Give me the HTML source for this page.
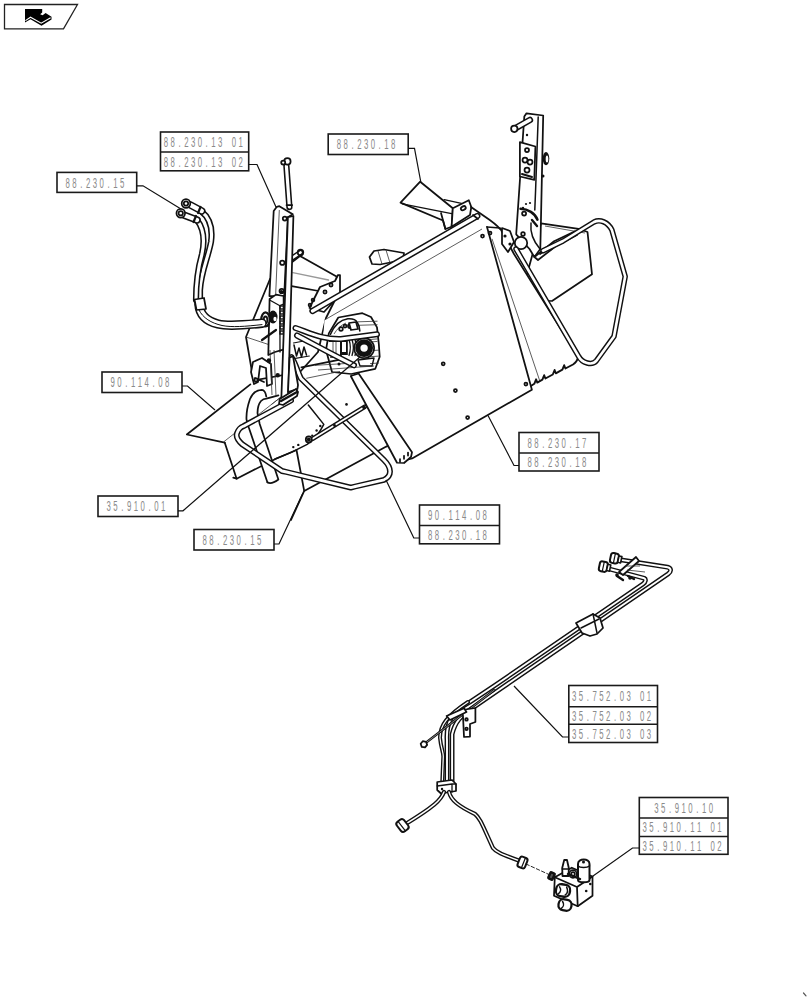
<!DOCTYPE html>
<html><head><meta charset="utf-8"><style>
html,body{margin:0;padding:0;background:#fff;width:812px;height:1000px;overflow:hidden}
svg{display:block}
.bx{fill:none;stroke:#1a1a1a;stroke-width:1.6}
.tx{font-family:"Liberation Sans",sans-serif;font-size:15px;fill:#8a8a8a}
.ld{fill:none;stroke:#111;stroke-width:1.2}
.k{fill:none;stroke:#111;stroke-width:1.75;stroke-linejoin:round;stroke-linecap:round}
.kw{fill:#fff;stroke:#111;stroke-width:1.75;stroke-linejoin:round;stroke-linecap:round}
.t{fill:none;stroke:#333;stroke-width:0.8}
</style></head><body>
<svg width="812" height="1000" viewBox="0 0 812 1000">
<path d="M541,223.3 L578.6,228.8 L587.5,232 L592,274.3 L552,301 L520,300 Z" class="kw" />
<path d="M545,226 L585,233" class="t" />
<path d="M420.2,181.7 L452.8,208.2 L451.6,226.7 L445.4,229 L443,220.5 L400.5,202.6 Z" class="kw" />
<path d="M402.3,203.9 L451.6,213.7" style="stroke-width:1.3" class="k"/>
<path d="M441,213 L445.4,229" class="k" />
<path d="M444.2,199.6 L461.4,203.3" style="stroke-width:1.3" class="k"/>
<path d="M369.5,257 L374,251 L384,249.5 L404,253 L403,260 L380,264.5 L372,264 Z" class="kw" />
<path d="M378,251 L382,264 M386,250 L390,263" class="t" />
<path d="M270,279 L300,256 L336.5,276.5 L339,292 L326,318 L318,352 L300,372 L253.5,380.5 L246,337 Z" class="kw" />
<path d="M292.8,272.7 L328.5,280" style="stroke:#999;stroke-width:1.3" class="k"/>
<path d="M291.6,286.2 L318.7,291" class="k" />
<path d="M246,337 L270,345" class="t" />
<path d="M224.7,442.6 L356,376 L400,440 L386.3,446.6 L304.2,490.9 L296.5,450 L275.4,459 L236.6,478.7 L233.3,477.6 Z" style="stroke:none" class="kw"/>
<path d="M400,440 L386.3,446.6 L304.2,490.9 L296.5,450 L275.4,459 L236.6,478.7 L233.3,477.6" class="k" />
<path d="M223.5,442 L281,397" class="t" />
<path d="M275,459 C285,455.4 295,451 307.2,444.3 C314,440 320,432 323.8,424.4 L308.3,405" style="stroke-width:1.5" class="k"/>
<path d="M304.2,490.9 L291,520" class="k" />
<circle cx="293.3" cy="447.1" r="1.2" fill="#111"/>
<circle cx="298.3" cy="444.9" r="1.2" fill="#111"/>
<circle cx="312.2" cy="435.5" r="1.1" fill="#111"/>
<circle cx="316.6" cy="430.5" r="1.2" fill="#111"/>
<circle cx="320.3" cy="426" r="1.2" fill="#111"/>
<circle cx="346.5" cy="404.4" r="1.3" fill="#111"/>
<path d="M186.8,434.5 L250.4,384.4 L272,405 L262,420 L224.7,442.6 Z" style="stroke:none" class="kw"/>
<path d="M224.7,442.6 L186.8,434.5 L250.4,384.4" class="k" />
<path d="M224.7,442.6 L236.6,478.7" class="k" />
<path d="M267.4,482.3 L248.7,427.3 L246.5,419.6 C246,410 248.2,404.2 250,399 C252,394 256,390 261.9,389.9 C264,390 265.5,392 266.3,396.5 L278.4,395.4 L266.3,398.7 C265,398.7 263,399 261,401 C258.5,404 257.5,408 257.5,413 L259.7,424 L278.4,479.5 Z" style="stroke:none" class="kw"/>
<path d="M267.4,482.3 L248.7,427.3 L246.5,419.6 C246,410 248.2,404.2 250,399 C252,394 256,390 261.9,389.9 C264,390 265.5,392 266.3,396.5" class="k" />
<path d="M278.4,395.4 L266.3,398.7 C265,398.7 263,399 261,401 C258.5,404 257.5,408 257.5,413 L259.7,424 L278.4,479.5 C275,482 270,484 267.4,482.3" class="k" />
<path d="M223.5,442 L281,397" class="t" />
<path d="M487,227 L500,228 L514,254 L578.2,356.7 L573,364.5 L531.9,388.8 L521.9,360 Z" style="stroke:none" class="kw"/>
<path d="M487,227 L500,228 L514,254 L578.2,356.7" class="k" />
<path d="M492,238.8 L539.8,381" class="t" />
<path d="M530.9,386 L534.3,383.8 L536.1,379.3 L537.3,382.6 L542.4,379.7 L544.2,375.2 L545.4,378.5 L552.8,374.5 L554.6,370.0 L555.8,373.3 L562.4,369.7 L564.2,365.2 L565.4,368.5 L573,364.5 C576,362.5 577.5,360 578.2,356.7" style="stroke-width:1.9" class="k"/>
<path d="M324.5,320 L487,227 L531.9,389.8 L412.1,458.5 L402,461 L350.75,376 L322,352 Z" style="stroke:none" class="kw"/>
<path d="M487,227 L531.9,389.8 L412.1,458.5 L402,461" class="k" />
<circle cx="443.2" cy="363.8" r="1.5" class="k"/>
<circle cx="455.4" cy="390.6" r="1.5" class="k"/>
<circle cx="467.6" cy="417.6" r="1.5" class="k"/>
<circle cx="525.9" cy="384" r="1.5" class="k"/>
<circle cx="482.5" cy="236" r="1.5" class="k"/>
<circle cx="490" cy="233" r="1.5" class="k"/>
<path d="M350.75,376 L358.6,373.5 L412,452.25 L411,457 L404,463 L397,462.75 Z" class="kw" />
<path d="M400,462.0 l0,-3" class="k" />
<path d="M404,458.8 l0,-3" class="k" />
<path d="M408,455.6 l0,-3" class="k" />
<path d="M338.3,317.5 L362.4,313.2 L371,317 L377,327.4 L378.8,343.8 L379.7,356.7 L375.3,368.8 L351.2,374 L332,372 L326,350 L328.8,333.4 Z" class="kw" />
<path d="M358,321.8 L377.5,321.2" class="t" />
<path d="M358,325.3 L377.5,324.7" class="t" />
<path d="M370,339.5 L377.5,338.9" class="t" />
<path d="M370,342 L377.5,341.4" class="t" />
<path d="M370,350.7 L379,350.09999999999997" class="t" />
<path d="M370,356.7 L379,356.09999999999997" class="t" />
<path d="M370,363.6 L379,363.0" class="t" />
<path d="M330.5,334.3 C334,326 340,320 347.8,318.8 C352,318.5 356,320 357.2,322.2 C359,325 359.8,328 359.8,330.9" style="stroke-width:1.6" class="k"/>
<path d="M334,334 C337,329 341,325 346,323" class="t" />
<circle cx="341" cy="329" r="1.8" class="k"/>
<circle cx="345" cy="326" r="1.5" class="k"/>
<circle cx="350" cy="326" r="2" class="k"/>
<path d="M349,323 L356,322 L358,329 L351,330 Z" class="kw" />
<path d="M329.7,341.2 L340.9,341 L340.9,356.7 L331,357" class="k" />
<path d="M333,342 L333,357 M336,342 L336,357" class="t" />
<rect x="340" y="339.5" width="7.8" height="15.5" fill="#111"/>
<rect x="342" y="342" width="4" height="10" fill="#fff"/>
<path d="M349,339.5 C350.5,344 350.5,351 349,355.5" style="stroke-width:1.3" class="k"/>
<path d="M352,339.5 C353.5,344 353.5,351 352,355.5" style="stroke-width:1.3" class="k"/>
<path d="M355,339.5 C356.5,344 356.5,351 355,355.5" style="stroke-width:1.3" class="k"/>
<circle cx="364.1" cy="348.1" r="10" class="kw"/>
<circle cx="364.1" cy="348.1" r="6.3" fill="none" stroke="#111" stroke-width="5.2"/>
<circle cx="364.1" cy="348.1" r="2.7" fill="#fff"/>
<path d="M358,360 L374,358 L372,366 L360,366 Z" style="stroke-width:1.4" class="k"/>
<path d="M315,365.3 L355,363 M318,370 L374,366" class="t" />
<circle cx="339" cy="364" r="1.5" fill="#111"/>
<path d="M309.5,308 L320,287 L335,281 L338,275 L340,275 L340,294.5 L324,312 Z" class="kw" />
<circle cx="325" cy="292" r="1.6" class="k"/>
<circle cx="331" cy="285" r="1.6" class="k"/>
<circle cx="313" cy="300" r="1.4" class="k"/>
<circle cx="310" cy="305" r="1.4" class="k"/>
<path d="M312.5,311 L477.3,216" fill="none" stroke="#111" stroke-width="6.3" stroke-linecap="round" stroke-linejoin="round"/>
<path d="M312.5,311 L477.3,216" fill="none" stroke="#fff" stroke-width="3.18" stroke-linecap="round" stroke-linejoin="round"/>
<path d="M324.5,320 L482,229" class="t" />
<path d="M452.8,208.2 L468.8,200.2 L471.3,207 L470,215 L451.6,226.7 Z" class="kw" />
<ellipse cx="463.3" cy="208.2" rx="2.6" ry="1.8" transform="rotate(-30 463.3 208.2)" fill="none" stroke="#111" stroke-width="1.8"/>
<path d="M471,207 L484,216 C490,220 496,224 500,229" class="k" />
<path d="M473,215 L478,219" class="k" />
<path d="M291.5,357 C296,364 298,373 301,378.5 L384,460 C392,468 392,476 384,479.8 L355.2,486.5 L350.8,487.6 L286.5,472 L282,471 L242.2,444.3 C237.5,440 236,436 237,433.3 C238.5,429 241,427 243.5,426.2 L291,400.5" fill="none" stroke="#111" stroke-width="5.9" stroke-linecap="round" stroke-linejoin="round"/>
<path d="M291.5,357 C296,364 298,373 301,378.5 L384,460 C392,468 392,476 384,479.8 L355.2,486.5 L350.8,487.6 L286.5,472 L282,471 L242.2,444.3 C237.5,440 236,436 237,433.3 C238.5,429 241,427 243.5,426.2 L291,400.5" fill="none" stroke="#fff" stroke-width="2.90" stroke-linecap="round" stroke-linejoin="round"/>
<path d="M312.7,438.8 L364.8,406.7" fill="none" stroke="#111" stroke-width="4.6" stroke-linecap="round" stroke-linejoin="round"/>
<path d="M312.7,438.8 L364.8,406.7" fill="none" stroke="#fff" stroke-width="1.72" stroke-linecap="round" stroke-linejoin="round"/>
<circle cx="334.5" cy="425.5" r="1.4" fill="#111"/>
<circle cx="364" cy="407.5" r="1.8" fill="#111"/>
<circle cx="308.8" cy="439.4" r="3" class="kw"/>
<circle cx="308.8" cy="439.4" r="2" fill="#111"/>
<path d="M286.4,166 L289.4,207" fill="none" stroke="#111" stroke-width="6.3" stroke-linecap="round" stroke-linejoin="round"/>
<path d="M286.4,166 L289.4,207" fill="none" stroke="#fff" stroke-width="3.18" stroke-linecap="round" stroke-linejoin="round"/>
<path d="M286.5,205 L292.2,205" class="k" />
<circle cx="287.4" cy="161.4" r="3.2" class="kw"/>
<circle cx="283.2" cy="162.6" r="2" class="kw"/>
<path d="M273.7,211 L276.8,206.8 L279.3,206.2 L292.8,214.2 L287.9,217.2 L284.2,296 L269.4,296 Z" class="kw" />
<path d="M279.3,210 L275.6,296" class="t" />
<circle cx="284.8" cy="218.5" r="2" class="kw"/>
<circle cx="282.3" cy="262.8" r="2.2" class="kw"/>
<circle cx="281.7" cy="291" r="2.2" class="kw"/>
<path d="M292.2,258 L300.5,252.5" fill="none" stroke="#111" stroke-width="5.5" stroke-linecap="round" stroke-linejoin="round"/>
<path d="M292.2,258 L300.5,252.5" fill="none" stroke="#fff" stroke-width="2.62" stroke-linecap="round" stroke-linejoin="round"/>
<circle cx="300.5" cy="252.5" r="2.8" class="k"/>
<path d="M269.6,299 L276,294.6 L283.6,296 L284,349.3 L275,352 L268.3,355 Z" class="kw" />
<path d="M269.6,300 L279.9,305.7 L283.6,304" style="stroke-width:1.3" class="k"/>
<rect x="280" y="306" width="3.4" height="3" fill="#fff" stroke="#111" stroke-width="1.4"/>
<rect x="280" y="311" width="3.4" height="3" fill="#fff" stroke="#111" stroke-width="1.4"/>
<rect x="280" y="316" width="3.4" height="3" fill="#fff" stroke="#111" stroke-width="1.4"/>
<rect x="280" y="321" width="3.4" height="3" fill="#fff" stroke="#111" stroke-width="1.4"/>
<rect x="280" y="326" width="3.4" height="3" fill="#fff" stroke="#111" stroke-width="1.4"/>
<rect x="280" y="331" width="3.4" height="3" fill="#fff" stroke="#111" stroke-width="1.4"/>
<path d="M279.9,305.7 L280,352" style="stroke-width:1.3" class="k"/>
<circle cx="281.4" cy="291.7" r="1.8" fill="#111"/>
<path d="M287.9,217.2 L293.4,216 L288,401 L281.25,401 Z" class="kw" />
<ellipse cx="273" cy="317" rx="4.5" ry="6.5" fill="#111"/>
<ellipse cx="275" cy="319" rx="1.6" ry="2.2" fill="#fff"/>
<ellipse cx="265.5" cy="319.4" rx="4.2" ry="7" fill="#fff" stroke="#111" stroke-width="2.2"/>
<ellipse cx="265.5" cy="320" rx="1.8" ry="3.5" fill="none" stroke="#111" stroke-width="1.8"/>
<path d="M262,340 L276,330" style="stroke-width:2.2" class="k"/>
<path d="M253,362 L262,358 L271,364 L272,384 L267,386 L266,368 L260,366 L258,382 L254,384 L251,372 Z" class="kw" />
<path d="M255,378 L264,382" class="k" />
<circle cx="256" cy="380" r="1.6" class="kw"/>
<path d="M289.6,357.6 L293,356 L298,385 L297.4,389 L288,392 Z" class="kw" />
<path d="M279.7,399 L296,389 L298,392 L297,396 L283,405 L279,404 Z" class="kw" />
<path d="M281,401 L297,392" style="stroke-width:2.4" class="k"/>
<path d="M301.4,367.4 L340,359.6" class="k" />
<path d="M306.3,378.3 L340,371.4" class="t" />
<path d="M294,345 L296.5,356 L299,348 L301.5,357 L304,347 L306.5,355" style="stroke-width:1.5" class="k"/>
<path d="M293.5,343 L309,340 M294,358.6 L309.3,356" style="stroke-width:1.2" class="k"/>
<path d="M270,350 L272,395 M274,350 L276,396" class="t" />
<circle cx="268.9" cy="360.5" r="2.2" fill="#111"/>
<circle cx="277.7" cy="375.3" r="2.2" fill="#111"/>
<path d="M201,211 C210,218 213,228 211,242 C208,258 201,272 200,290 L200,300" fill="none" stroke="#111" stroke-width="6.2" stroke-linecap="round" stroke-linejoin="round"/>
<path d="M201,211 C210,218 213,228 211,242 C208,258 201,272 200,290 L200,300" fill="none" stroke="#fff" stroke-width="3.08" stroke-linecap="round" stroke-linejoin="round"/>
<path d="M197,220 C204,229 205,240 202,254 C198,268 196,282 196,300" fill="none" stroke="#111" stroke-width="6.2" stroke-linecap="round" stroke-linejoin="round"/>
<path d="M197,220 C204,229 205,240 202,254 C198,268 196,282 196,300" fill="none" stroke="#fff" stroke-width="3.08" stroke-linecap="round" stroke-linejoin="round"/>
<path d="M199,304 C199.5,314 206,321 218,324 C226,326 236,326 262,323.2" fill="none" stroke="#111" stroke-width="9.5" stroke-linecap="round" stroke-linejoin="round"/>
<path d="M199,304 C199.5,314 206,321 218,324 C226,326 236,326 262,323.2" fill="none" stroke="#fff" stroke-width="6.38" stroke-linecap="round" stroke-linejoin="round"/>
<path d="M199,310 C203,318 211,323 222,325.5 C232,327.5 245,326.5 262,324.6" style="stroke-width:1" class="k"/>
<path d="M190.5,205 L201.75,211" fill="none" stroke="#111" stroke-width="7.5" stroke-linecap="round" stroke-linejoin="round"/>
<path d="M190.5,205 L201.75,211" fill="none" stroke="#fff" stroke-width="4.38" stroke-linecap="round" stroke-linejoin="round"/>
<path d="M185,215.5 L197,220" fill="none" stroke="#111" stroke-width="7.5" stroke-linecap="round" stroke-linejoin="round"/>
<path d="M185,215.5 L197,220" fill="none" stroke="#fff" stroke-width="4.38" stroke-linecap="round" stroke-linejoin="round"/>
<path d="M200.5,207 L198,213 M196,216 L193.5,222" style="stroke-width:2.2" class="k"/>
<circle cx="186" cy="203.5" r="4.3" class="kw"/>
<circle cx="186" cy="203.5" r="2.2" class="k"/>
<circle cx="180.75" cy="213.25" r="4.3" class="kw"/>
<circle cx="180.75" cy="213.25" r="2.2" class="k"/>
<path d="M194.5,299.5 L204,298 L206,309 L196.5,310 Z" class="kw" />
<path d="M295.5,328 C310,333 322,339.5 340.9,339 L377,334.3" fill="none" stroke="#111" stroke-width="6.0" stroke-linecap="round" stroke-linejoin="round"/>
<path d="M295.5,328 C310,333 322,339.5 340.9,339 L377,334.3" fill="none" stroke="#fff" stroke-width="3.12" stroke-linecap="round" stroke-linejoin="round"/>
<path d="M297,335.5 C315,345 335,356 354,365.3" fill="none" stroke="#111" stroke-width="6.0" stroke-linecap="round" stroke-linejoin="round"/>
<path d="M297,335.5 C315,345 335,356 354,365.3" fill="none" stroke="#fff" stroke-width="3.12" stroke-linecap="round" stroke-linejoin="round"/>
<path d="M524.3,116.6 L526.5,113.3 L543.2,115.5 L540.8,227.4 L540.3,249 L534.4,257 L529.5,249 L516.2,234.3 Z" class="kw" />
<path d="M538.2,116.9 L535.6,190 L534.8,210" style="stroke-width:1.5" class="k"/>
<path d="M514.3,128.8 L529.9,120" fill="none" stroke="#111" stroke-width="6.5" stroke-linecap="round" stroke-linejoin="round"/>
<path d="M514.3,128.8 L529.9,120" fill="none" stroke="#fff" stroke-width="3.38" stroke-linecap="round" stroke-linejoin="round"/>
<circle cx="514.3" cy="128.8" r="3.2" class="kw"/>
<path d="M519.9,142.1 L535.4,146.5 L534.3,179.8 L519.9,176.5 Z" class="kw" />
<circle cx="527" cy="150" r="2" class="k"/>
<circle cx="525" cy="160" r="2.5" class="k"/>
<circle cx="530" cy="162" r="2.5" class="k"/>
<circle cx="527" cy="170" r="2.5" class="k"/>
<path d="M522,174 L532,177" style="stroke-width:2" class="k"/>
<ellipse cx="546" cy="158.6" rx="3.3" ry="6.6" fill="#111"/>
<ellipse cx="547" cy="159" rx="1.3" ry="3.5" fill="#fff"/>
<circle cx="543" cy="176" r="1.5" fill="#111"/>
<circle cx="527" cy="135" r="1.2" fill="#111"/>
<circle cx="523" cy="208" r="1.2" fill="#111"/>
<path d="M520.6,208.7 C528,209 535,213 537.4,219.6" style="stroke-width:2.6" class="k"/>
<path d="M531,223 C530,232 534,242 540,249" style="stroke-width:1.5" class="k"/>
<path d="M532,220 L537,226" style="stroke-width:2.4" class="k"/>
<circle cx="524.1" cy="213.6" r="2" class="k"/>
<circle cx="526" cy="204" r="1.1" fill="#111"/>
<circle cx="530" cy="203" r="1.1" fill="#111"/>
<circle cx="521" cy="243" r="6.2" class="kw"/>
<circle cx="523" cy="234" r="1.8" class="kw"/>
<path d="M534.4,257 L554.1,241.2 L575,231.4 L577,235 L556,246 L538,260 Z" class="kw" />
<circle cx="544" cy="252" r="1.3" fill="#111"/>
<circle cx="551" cy="249" r="1.3" fill="#111"/>
<circle cx="563" cy="242" r="1.3" fill="#111"/>
<path d="M540,254 L556,243" style="stroke-width:1.8" class="k"/>
<path d="M502,228 L510,231 L514,242 L508,252 L502,244 Z" class="kw" />
<circle cx="505" cy="236" r="1.6" fill="#111"/>
<circle cx="510" cy="244" r="1.6" fill="#111"/>
<path d="M516,249 L578.6,356.3 C582,363 592,366 596.4,360.7 L614,336.4 L625.2,276.5 L611.9,230 C608,222 600,219 594,222 L563,241 L543,250.7" fill="none" stroke="#111" stroke-width="5.5" stroke-linecap="round" stroke-linejoin="round"/>
<path d="M516,249 L578.6,356.3 C582,363 592,366 596.4,360.7 L614,336.4 L625.2,276.5 L611.9,230 C608,222 600,219 594,222 L563,241 L543,250.7" fill="none" stroke="#fff" stroke-width="2.62" stroke-linecap="round" stroke-linejoin="round"/>
<path d="M617.7,559.4 L667.6,567.2 C671,568 672,571 668,574 L498.7,690 L475.4,706 C460,716 455,722 452.1,734.3 L452.1,784.2" fill="none" stroke="#111" stroke-width="4.8" stroke-linecap="round" stroke-linejoin="round"/>
<path d="M617.7,559.4 L667.6,567.2 C671,568 672,571 668,574 L498.7,690 L475.4,706 C460,716 455,722 452.1,734.3 L452.1,784.2" fill="none" stroke="#fff" stroke-width="1.92" stroke-linecap="round" stroke-linejoin="round"/>
<path d="M606.6,568.3 L644.3,578.3 C646,579 646,582 643,584 L494,686 L470,702 C452,712 446,722 447,740 L447,784" fill="none" stroke="#111" stroke-width="4.8" stroke-linecap="round" stroke-linejoin="round"/>
<path d="M606.6,568.3 L644.3,578.3 C646,579 646,582 643,584 L494,686 L470,702 C452,712 446,722 447,740 L447,784" fill="none" stroke="#fff" stroke-width="1.92" stroke-linecap="round" stroke-linejoin="round"/>
<path d="M468,702 C447,716 440,725 440,737.7 C441,748 443.3,752 443.3,756.5 L442.2,784.2" fill="none" stroke="#111" stroke-width="4.0" stroke-linecap="round" stroke-linejoin="round"/>
<path d="M468,702 C447,716 440,725 440,737.7 C441,748 443.3,752 443.3,756.5 L442.2,784.2" fill="none" stroke="#fff" stroke-width="1.24" stroke-linecap="round" stroke-linejoin="round"/>
<g transform="translate(614.4,558.3) rotate(12)"><rect x="-4" y="-5" width="8" height="10" rx="2.5" style="stroke-width:2" class="kw"/><path d="M0,-5 L0,5" style="stroke-width:1.2" class="k"/><rect x="4" y="-3.2" width="3" height="6.4" style="stroke-width:1.6" class="kw"/></g>
<g transform="translate(603.3,566.6) rotate(12)"><rect x="-4" y="-5" width="8" height="10" rx="2.5" style="stroke-width:2" class="kw"/><path d="M0,-5 L0,5" style="stroke-width:1.2" class="k"/><rect x="4" y="-3.2" width="3" height="6.4" style="stroke-width:1.6" class="kw"/></g>
<path d="M619,572 L636,557 L639,561 L623,575 Z" class="kw" />
<path d="M617,576 L623,580 M628,576 L634,579" style="stroke-width:2.4" class="k"/>
<path d="M625,566 L640,566 M627,570 L645,572" class="t" />
<circle cx="617" cy="575" r="1.8" fill="#111"/>
<circle cx="630" cy="578" r="1.8" fill="#111"/>
<path d="M576,623 L593,614 L600,618 L603,628 L597,634 L590,636 L582,633 Z" class="kw" />
<path d="M581,628 L599,619 M593,614 L597,633" style="stroke-width:1.5" class="k"/>
<path d="M423.9,744.3 L494.3,690" fill="none" stroke="#111" stroke-width="2.4" stroke-linecap="round" stroke-linejoin="round"/>
<path d="M423.9,744.3 L494.3,690" fill="none" stroke="#fff" stroke-width="0.48" stroke-linecap="round" stroke-linejoin="round"/>
<path d="M427.15,744.87 L425.03,747.4 L421.78,746.83 L420.65,743.73 L422.77,741.2 L426.02,741.77 Z" class="kw" />
<path d="M462,710 L475.4,708 L475.4,722 L470,724 L470,736.6 L464,737 L463,716 Z" class="kw" />
<circle cx="466.5" cy="719.4" r="1.3" class="k"/>
<circle cx="466.5" cy="728.8" r="1.3" class="k"/>
<path d="M446.6,716 L464,708.3 L466.5,712 L450,720 Z" class="kw" />
<path d="M437.2,782 L452,780 L456,784 L456,791 L441,793.5 L437.2,790 Z" class="kw" />
<path d="M437.2,786 L452,784 L456,784 M452,784 L452,792" style="stroke-width:1.3" class="k"/>
<circle cx="442" cy="789" r="1.2" fill="#111"/>
<path d="M444,792 C441,800 435,806 404,825" fill="none" stroke="#111" stroke-width="4.2" stroke-linecap="round" stroke-linejoin="round"/>
<path d="M444,792 C441,800 435,806 404,825" fill="none" stroke="#fff" stroke-width="1.44" stroke-linecap="round" stroke-linejoin="round"/>
<g transform="translate(402.5,825.5) rotate(-38)"><rect x="-4.5" y="-6" width="9" height="12" rx="2.8" style="stroke-width:2" class="kw"/><path d="M-1,-6 L-1,6" style="stroke-width:1.2" class="k"/></g>
<path d="M449,792 C451,800 458,806 475,814 C480,818 482,824 493,848 C496,852 501,854 520,861" fill="none" stroke="#111" stroke-width="4.2" stroke-linecap="round" stroke-linejoin="round"/>
<path d="M449,792 C451,800 458,806 475,814 C480,818 482,824 493,848 C496,852 501,854 520,861" fill="none" stroke="#fff" stroke-width="1.44" stroke-linecap="round" stroke-linejoin="round"/>
<g transform="translate(522.5,862.5) rotate(22)"><rect x="-4" y="-5.5" width="8" height="11" rx="2.5" style="stroke-width:2" class="kw"/><path d="M1,-5.5 L1,5.5" style="stroke-width:1.2" class="k"/></g>
<path d="M526,864 L549,874.5" style="stroke-width:0.9" class="k" stroke-dasharray="3.5 2.2"/>
<path d="M554.8,877.3 L571.8,867.7 L592.5,876.6 L592.5,895.8 L577.7,906.2 L554,895.8 Z" class="kw" />
<path d="M554.8,877.3 L577,887 L592.5,876.6 M577,887 L577.7,906.2" class="k" />
<path d="M578,880 L578,864 C578,858 589.5,858 589.5,864 L589.5,880 C589.5,883 578,883 578,880 Z" style="stroke-width:2" class="kw"/>
<path d="M578,866 C580,868 587,868 589.5,866" style="stroke-width:1.6" class="k"/>
<circle cx="583.5" cy="862" r="1.5" fill="#111"/>
<path d="M562.5,876 L562.2,868 L564.2,860 L567,860 L568.8,868 L568.6,876 Z" style="stroke-width:1.8" class="kw"/>
<path d="M562.4,869 L568.7,869" style="stroke-width:1.4" class="k"/>
<circle cx="573" cy="874" r="3.8" class="kw"/>
<circle cx="573" cy="874" r="1.8" class="k"/>
<path d="M568,874 L580,879" style="stroke-width:2.4" class="k"/>
<g transform="translate(551.5,876) rotate(25)"><rect x="-3.5" y="-4.5" width="7" height="9" rx="2" fill="#111"/><rect x="-1" y="-2" width="2" height="4" fill="#555"/></g>
<g transform="translate(563,890.5) rotate(10)"><rect x="-7" y="-6" width="14" height="12" rx="5" style="stroke-width:2.3" class="kw"/><path d="M-4,-3 C-2,-1 -2,2 -4,4 M3,-4 C5,-1 5,2 3,4" style="stroke-width:1.5" class="k"/></g>
<g transform="translate(565,905) rotate(10)"><rect x="-6.5" y="-5.5" width="13" height="11" rx="5" style="stroke-width:2.3" class="kw"/><path d="M-3,-3 C-1,-1 -1,2 -3,4" style="stroke-width:1.5" class="k"/></g>
<circle cx="586.2" cy="891" r="1.3" fill="#111"/>
<circle cx="590.3" cy="884" r="1.3" fill="#111"/>
<path d="M803.5,993 L806,995.8" style="stroke:#555;stroke-width:1.2" class="k"/>
<path d="M4.5,4.5 H77.5 L63.5,28.8 H4.5 Z" fill="none" stroke="#222" stroke-width="1.3"/>
<path d="M25,9 H42.2 V12.6 L40.2,14.3 L42.6,15.2 L45.6,13.1 L51.5,16.8 V19.6 L41.5,25.7 L30.5,19.3 L25,22.6 Z" fill="#000"/>
<path d="M25.4,20.6 L30.5,17.2 L41.2,23.2 L50.6,17.8" fill="none" stroke="#fff" stroke-width="1.1"/>
<rect x="57" y="172.4" width="79.69999999999999" height="20.0" class="bx"/>
<g transform="translate(65.70,187.60) scale(0.52,1)"><text x="3.85 16.92 30.00 43.08 56.15 69.23 82.31 95.38 108.46" y="0" class="tx" text-anchor="middle">88.230.15</text></g>
<rect x="160.5" y="132" width="88.19999999999999" height="38.80000000000001" class="bx"/>
<line x1="160.5" y1="152" x2="248.7" y2="152" class="bx"/>
<g transform="translate(163.90,147.20) scale(0.52,1)"><text x="3.85 16.92 30.00 43.08 56.15 69.23 82.31 95.38 108.46 121.54 134.62 147.69" y="0" class="tx" text-anchor="middle">88.230.13 01</text></g>
<g transform="translate(163.90,166.60) scale(0.52,1)"><text x="3.85 16.92 30.00 43.08 56.15 69.23 82.31 95.38 108.46 121.54 134.62 147.69" y="0" class="tx" text-anchor="middle">88.230.13 02</text></g>
<rect x="328.2" y="134" width="80.0" height="20.5" class="bx"/>
<g transform="translate(336.90,149.45) scale(0.52,1)"><text x="3.85 16.92 30.00 43.08 56.15 69.23 82.31 95.38 108.46" y="0" class="tx" text-anchor="middle">88.230.18</text></g>
<rect x="102" y="372" width="80" height="20.5" class="bx"/>
<g transform="translate(110.70,387.45) scale(0.52,1)"><text x="3.85 16.92 30.00 43.08 56.15 69.23 82.31 95.38 108.46" y="0" class="tx" text-anchor="middle">90.114.08</text></g>
<rect x="98" y="496" width="80" height="20.5" class="bx"/>
<g transform="translate(106.70,511.45) scale(0.52,1)"><text x="3.85 16.92 30.00 43.08 56.15 69.23 82.31 95.38 108.46" y="0" class="tx" text-anchor="middle">35.910.01</text></g>
<rect x="194" y="529.5" width="80" height="20.5" class="bx"/>
<g transform="translate(202.70,544.95) scale(0.52,1)"><text x="3.85 16.92 30.00 43.08 56.15 69.23 82.31 95.38 108.46" y="0" class="tx" text-anchor="middle">88.230.15</text></g>
<rect x="519" y="432.5" width="80" height="38.5" class="bx"/>
<line x1="519" y1="453" x2="599" y2="453" class="bx"/>
<g transform="translate(527.70,447.95) scale(0.52,1)"><text x="3.85 16.92 30.00 43.08 56.15 69.23 82.31 95.38 108.46" y="0" class="tx" text-anchor="middle">88.230.17</text></g>
<g transform="translate(527.70,467.20) scale(0.52,1)"><text x="3.85 16.92 30.00 43.08 56.15 69.23 82.31 95.38 108.46" y="0" class="tx" text-anchor="middle">88.230.18</text></g>
<rect x="419.5" y="505" width="80.0" height="38.799999999999955" class="bx"/>
<line x1="419.5" y1="525.5" x2="499.5" y2="525.5" class="bx"/>
<g transform="translate(428.20,520.45) scale(0.52,1)"><text x="3.85 16.92 30.00 43.08 56.15 69.23 82.31 95.38 108.46" y="0" class="tx" text-anchor="middle">90.114.08</text></g>
<g transform="translate(428.20,539.85) scale(0.52,1)"><text x="3.85 16.92 30.00 43.08 56.15 69.23 82.31 95.38 108.46" y="0" class="tx" text-anchor="middle">88.230.18</text></g>
<rect x="568.8" y="685.5" width="88.70000000000005" height="57.0" class="bx"/>
<line x1="568.8" y1="706.8" x2="657.5" y2="706.8" class="bx"/>
<line x1="568.8" y1="724.3" x2="657.5" y2="724.3" class="bx"/>
<g transform="translate(572.20,701.35) scale(0.52,1)"><text x="3.85 16.92 30.00 43.08 56.15 69.23 82.31 95.38 108.46 121.54 134.62 147.69" y="0" class="tx" text-anchor="middle">35.752.03 01</text></g>
<g transform="translate(572.20,720.75) scale(0.52,1)"><text x="3.85 16.92 30.00 43.08 56.15 69.23 82.31 95.38 108.46 121.54 134.62 147.69" y="0" class="tx" text-anchor="middle">35.752.03 02</text></g>
<g transform="translate(572.20,738.60) scale(0.52,1)"><text x="3.85 16.92 30.00 43.08 56.15 69.23 82.31 95.38 108.46 121.54 134.62 147.69" y="0" class="tx" text-anchor="middle">35.752.03 03</text></g>
<rect x="639.3" y="797.5" width="88.70000000000005" height="56.799999999999955" class="bx"/>
<line x1="639.3" y1="818" x2="728" y2="818" class="bx"/>
<line x1="639.3" y1="836.5" x2="728" y2="836.5" class="bx"/>
<g transform="translate(654.45,812.95) scale(0.52,1)"><text x="3.85 16.92 30.00 43.08 56.15 69.23 82.31 95.38 108.46" y="0" class="tx" text-anchor="middle">35.910.10</text></g>
<g transform="translate(642.70,832.45) scale(0.52,1)"><text x="3.85 16.92 30.00 43.08 56.15 69.23 82.31 95.38 108.46 121.54 134.62 147.69" y="0" class="tx" text-anchor="middle">35.910.11 01</text></g>
<g transform="translate(642.70,850.60) scale(0.52,1)"><text x="3.85 16.92 30.00 43.08 56.15 69.23 82.31 95.38 108.46 121.54 134.62 147.69" y="0" class="tx" text-anchor="middle">35.910.11 02</text></g>
<path d="M136.7,185.8 H143 L181,209" class="ld"/>
<path d="M248.7,164.5 H257 L276,207" class="ld"/>
<path d="M408.2,148.3 H414.5 L420.8,182" class="ld"/>
<path d="M182,386 H187.5 L215,410" class="ld"/>
<path d="M178,510.8 H183 L360,357" class="ld"/>
<path d="M274,544 H279 L303,493" class="ld"/>
<path d="M519,465.5 H514 L488,415.5" class="ld"/>
<path d="M419.5,538 H413.8 L386,480" class="ld"/>
<path d="M568.8,737 H562.5 L514,686" class="ld"/>
<path d="M639.3,848 H632.5 L593,876" class="ld"/>
</svg>
</body></html>
